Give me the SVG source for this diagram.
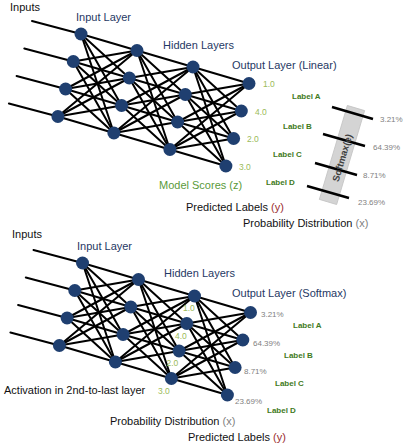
<svg xmlns="http://www.w3.org/2000/svg" width="407" height="447" viewBox="0 0 407 447">
<style>
text{font-family:"Liberation Sans",Arial,sans-serif;}
.e line{stroke:#000;stroke-width:2;stroke-linecap:round;}
.n{fill:#1f3f70;}
.t{font-size:11px;fill:#111;}
.h{font-size:11px;fill:#1f3864;}
.s{font-size:8.5px;fill:#9bbb59;}
.lb{font-size:8px;font-weight:bold;fill:#3f7a22;}
.p{font-size:8px;fill:#7f7f7f;}
.g{font-size:11px;fill:#5a9a3a;}
.r{fill:#9b2d30;}
.gy{fill:#7f7f7f;}
.tick{stroke:#000;stroke-width:2.5;}
</style>
<rect width="407" height="447" fill="#fff"/>

<!-- TOP NETWORK -->
<g id="top-connectors" class="e">
<line x1="32" y1="21" x2="81" y2="34"/>
<line x1="24.3" y1="48.5" x2="73.3" y2="61.5"/>
<line x1="16.6" y1="76" x2="65.6" y2="89"/>
<line x1="8.9" y1="103.5" x2="57.9" y2="116.5"/>
<line x1="81" y1="34" x2="137" y2="50.5"/><line x1="81" y1="34" x2="129.3" y2="78"/><line x1="81" y1="34" x2="121.6" y2="105.5"/><line x1="81" y1="34" x2="113.9" y2="133"/>
<line x1="73.3" y1="61.5" x2="137" y2="50.5"/><line x1="73.3" y1="61.5" x2="129.3" y2="78"/><line x1="73.3" y1="61.5" x2="121.6" y2="105.5"/><line x1="73.3" y1="61.5" x2="113.9" y2="133"/>
<line x1="65.6" y1="89" x2="137" y2="50.5"/><line x1="65.6" y1="89" x2="129.3" y2="78"/><line x1="65.6" y1="89" x2="121.6" y2="105.5"/><line x1="65.6" y1="89" x2="113.9" y2="133"/>
<line x1="57.9" y1="116.5" x2="137" y2="50.5"/><line x1="57.9" y1="116.5" x2="129.3" y2="78"/><line x1="57.9" y1="116.5" x2="121.6" y2="105.5"/><line x1="57.9" y1="116.5" x2="113.9" y2="133"/>
<line x1="137" y1="50.5" x2="193" y2="67"/><line x1="137" y1="50.5" x2="185.3" y2="94.5"/><line x1="137" y1="50.5" x2="177.6" y2="122"/><line x1="137" y1="50.5" x2="169.9" y2="149.5"/>
<line x1="129.3" y1="78" x2="193" y2="67"/><line x1="129.3" y1="78" x2="185.3" y2="94.5"/><line x1="129.3" y1="78" x2="177.6" y2="122"/><line x1="129.3" y1="78" x2="169.9" y2="149.5"/>
<line x1="121.6" y1="105.5" x2="193" y2="67"/><line x1="121.6" y1="105.5" x2="185.3" y2="94.5"/><line x1="121.6" y1="105.5" x2="177.6" y2="122"/><line x1="121.6" y1="105.5" x2="169.9" y2="149.5"/>
<line x1="113.9" y1="133" x2="193" y2="67"/><line x1="113.9" y1="133" x2="185.3" y2="94.5"/><line x1="113.9" y1="133" x2="177.6" y2="122"/><line x1="113.9" y1="133" x2="169.9" y2="149.5"/>
<line x1="193" y1="67" x2="249" y2="83.5"/><line x1="193" y1="67" x2="241.3" y2="111"/><line x1="193" y1="67" x2="233.6" y2="138.5"/><line x1="193" y1="67" x2="225.9" y2="166"/>
<line x1="185.3" y1="94.5" x2="249" y2="83.5"/><line x1="185.3" y1="94.5" x2="241.3" y2="111"/><line x1="185.3" y1="94.5" x2="233.6" y2="138.5"/><line x1="185.3" y1="94.5" x2="225.9" y2="166"/>
<line x1="177.6" y1="122" x2="249" y2="83.5"/><line x1="177.6" y1="122" x2="241.3" y2="111"/><line x1="177.6" y1="122" x2="233.6" y2="138.5"/><line x1="177.6" y1="122" x2="225.9" y2="166"/>
<line x1="169.9" y1="149.5" x2="249" y2="83.5"/><line x1="169.9" y1="149.5" x2="241.3" y2="111"/><line x1="169.9" y1="149.5" x2="233.6" y2="138.5"/><line x1="169.9" y1="149.5" x2="225.9" y2="166"/>
</g>
<g id="top-input-layer">
<circle class="n" cx="81" cy="34" r="6.5"/><circle class="n" cx="73.3" cy="61.5" r="6.5"/><circle class="n" cx="65.6" cy="89" r="6.5"/><circle class="n" cx="57.9" cy="116.5" r="6.5"/>
</g>
<g id="top-hidden-1">
<circle class="n" cx="137" cy="50.5" r="6.5"/><circle class="n" cx="129.3" cy="78" r="6.5"/><circle class="n" cx="121.6" cy="105.5" r="6.5"/><circle class="n" cx="113.9" cy="133" r="6.5"/>
</g>
<g id="top-hidden-2">
<circle class="n" cx="193" cy="67" r="6.5"/><circle class="n" cx="185.3" cy="94.5" r="6.5"/><circle class="n" cx="177.6" cy="122" r="6.5"/><circle class="n" cx="169.9" cy="149.5" r="6.5"/>
</g>
<g id="top-output-layer">
<circle class="n" cx="249" cy="83.5" r="6.5"/><circle class="n" cx="241.3" cy="111" r="6.5"/><circle class="n" cx="233.6" cy="138.5" r="6.5"/><circle class="n" cx="225.9" cy="166" r="6.5"/>
</g>
<g id="top-softmax">
<rect x="333" y="106" width="18" height="98" fill="#d4d4d4" stroke="#c4c4c4" stroke-width="0.8" transform="rotate(16.6 342 155)"/>
<line class="tick" x1="332" y1="107" x2="373" y2="119"/>
<line class="tick" x1="323" y1="134" x2="365" y2="146"/>
<line class="tick" x1="315" y1="163" x2="357" y2="175"/>
<line class="tick" x1="307" y1="186" x2="349" y2="198"/>
<text x="343" y="158" font-size="9.5" font-weight="bold" fill="#404040" text-anchor="middle" dominant-baseline="middle" transform="rotate(-73.4 343 158)">Softmax(e)</text>
</g>
<g id="top-labels">
<text class="t" x="10" y="11">Inputs</text>
<text class="h" x="76" y="21">Input Layer</text>
<text class="h" x="163" y="48.5">Hidden Layers</text>
<text class="h" x="232" y="69">Output Layer (Linear)</text>
<text class="s" x="263" y="86.5">1.0</text>
<text class="s" x="255" y="114.5">4.0</text>
<text class="s" x="247" y="142">2.0</text>
<text class="s" x="239" y="169.5">3.0</text>
<text class="lb" x="292" y="99">Label A</text>
<text class="lb" x="283" y="129">Label B</text>
<text class="lb" x="273" y="157">Label C</text>
<text class="lb" x="266" y="184.5">Label D</text>
<text class="p" x="380" y="122">3.21%</text>
<text class="p" x="373" y="150">64.39%</text>
<text class="p" x="363" y="178">8.71%</text>
<text class="p" x="358" y="205">23.69%</text>
<text class="g" x="159" y="189">Model Scores (z)</text>
<text class="t" x="186" y="210.5">Predicted Labels <tspan class="r">(y)</tspan></text>
<text class="t" x="243" y="226.5">Probability Distribution <tspan class="gy">(x)</tspan></text>
</g>

<!-- BOTTOM NETWORK -->
<g id="bottom-connectors" class="e" transform="translate(1.5,229)">
<line x1="32" y1="21" x2="81" y2="34"/>
<line x1="24.3" y1="48.5" x2="73.3" y2="61.5"/>
<line x1="16.6" y1="76" x2="65.6" y2="89"/>
<line x1="8.9" y1="103.5" x2="57.9" y2="116.5"/>
<line x1="81" y1="34" x2="137" y2="50.5"/><line x1="81" y1="34" x2="129.3" y2="78"/><line x1="81" y1="34" x2="121.6" y2="105.5"/><line x1="81" y1="34" x2="113.9" y2="133"/>
<line x1="73.3" y1="61.5" x2="137" y2="50.5"/><line x1="73.3" y1="61.5" x2="129.3" y2="78"/><line x1="73.3" y1="61.5" x2="121.6" y2="105.5"/><line x1="73.3" y1="61.5" x2="113.9" y2="133"/>
<line x1="65.6" y1="89" x2="137" y2="50.5"/><line x1="65.6" y1="89" x2="129.3" y2="78"/><line x1="65.6" y1="89" x2="121.6" y2="105.5"/><line x1="65.6" y1="89" x2="113.9" y2="133"/>
<line x1="57.9" y1="116.5" x2="137" y2="50.5"/><line x1="57.9" y1="116.5" x2="129.3" y2="78"/><line x1="57.9" y1="116.5" x2="121.6" y2="105.5"/><line x1="57.9" y1="116.5" x2="113.9" y2="133"/>
<line x1="137" y1="50.5" x2="193" y2="67"/><line x1="137" y1="50.5" x2="185.3" y2="94.5"/><line x1="137" y1="50.5" x2="177.6" y2="122"/><line x1="137" y1="50.5" x2="169.9" y2="149.5"/>
<line x1="129.3" y1="78" x2="193" y2="67"/><line x1="129.3" y1="78" x2="185.3" y2="94.5"/><line x1="129.3" y1="78" x2="177.6" y2="122"/><line x1="129.3" y1="78" x2="169.9" y2="149.5"/>
<line x1="121.6" y1="105.5" x2="193" y2="67"/><line x1="121.6" y1="105.5" x2="185.3" y2="94.5"/><line x1="121.6" y1="105.5" x2="177.6" y2="122"/><line x1="121.6" y1="105.5" x2="169.9" y2="149.5"/>
<line x1="113.9" y1="133" x2="193" y2="67"/><line x1="113.9" y1="133" x2="185.3" y2="94.5"/><line x1="113.9" y1="133" x2="177.6" y2="122"/><line x1="113.9" y1="133" x2="169.9" y2="149.5"/>
<line x1="193" y1="67" x2="249" y2="83.5"/><line x1="193" y1="67" x2="241.3" y2="111"/><line x1="193" y1="67" x2="233.6" y2="138.5"/><line x1="193" y1="67" x2="225.9" y2="166"/>
<line x1="185.3" y1="94.5" x2="249" y2="83.5"/><line x1="185.3" y1="94.5" x2="241.3" y2="111"/><line x1="185.3" y1="94.5" x2="233.6" y2="138.5"/><line x1="185.3" y1="94.5" x2="225.9" y2="166"/>
<line x1="177.6" y1="122" x2="249" y2="83.5"/><line x1="177.6" y1="122" x2="241.3" y2="111"/><line x1="177.6" y1="122" x2="233.6" y2="138.5"/><line x1="177.6" y1="122" x2="225.9" y2="166"/>
<line x1="169.9" y1="149.5" x2="249" y2="83.5"/><line x1="169.9" y1="149.5" x2="241.3" y2="111"/><line x1="169.9" y1="149.5" x2="233.6" y2="138.5"/><line x1="169.9" y1="149.5" x2="225.9" y2="166"/>
</g>
<g transform="translate(1.5,229)">
<g id="bottom-input-layer">
<circle class="n" cx="81" cy="34" r="6.5"/><circle class="n" cx="73.3" cy="61.5" r="6.5"/><circle class="n" cx="65.6" cy="89" r="6.5"/><circle class="n" cx="57.9" cy="116.5" r="6.5"/>
</g>
<g id="bottom-hidden-1">
<circle class="n" cx="137" cy="50.5" r="6.5"/><circle class="n" cx="129.3" cy="78" r="6.5"/><circle class="n" cx="121.6" cy="105.5" r="6.5"/><circle class="n" cx="113.9" cy="133" r="6.5"/>
</g>
<g id="bottom-hidden-2">
<circle class="n" cx="193" cy="67" r="6.5"/><circle class="n" cx="185.3" cy="94.5" r="6.5"/><circle class="n" cx="177.6" cy="122" r="6.5"/><circle class="n" cx="169.9" cy="149.5" r="6.5"/>
</g>
<g id="bottom-output-layer">
<circle class="n" cx="249" cy="83.5" r="6.5"/><circle class="n" cx="241.3" cy="111" r="6.5"/><circle class="n" cx="233.6" cy="138.5" r="6.5"/><circle class="n" cx="225.9" cy="166" r="6.5"/>
</g>
</g>
<g id="bottom-labels">
<text class="t" x="12" y="238">Inputs</text>
<text class="h" x="77" y="249.5">Input Layer</text>
<text class="h" x="164" y="276.5">Hidden Layers</text>
<text class="h" x="232" y="297">Output Layer (Softmax)</text>
<text class="s" x="183" y="311">1.0</text>
<text class="s" x="175" y="338.5">4.0</text>
<text class="s" x="166.5" y="366">2.0</text>
<text class="s" x="158" y="393.5">3.0</text>
<text class="p" x="261" y="317">3.21%</text>
<text class="p" x="253" y="346">64.39%</text>
<text class="p" x="244" y="374">8.71%</text>
<text class="p" x="235" y="404">23.69%</text>
<text class="lb" x="293" y="328">Label A</text>
<text class="lb" x="284" y="358">Label B</text>
<text class="lb" x="275" y="386">Label C</text>
<text class="lb" x="267" y="413">Label D</text>
<text class="t" x="4" y="393.5" font-size="11.5">Activation in 2nd-to-last layer</text>
<text class="t" x="110" y="425">Probability Distribution <tspan class="gy">(x)</tspan></text>
<text class="t" x="188" y="440.5">Predicted Labels <tspan class="r">(y)</tspan></text>
</g>
</svg>
